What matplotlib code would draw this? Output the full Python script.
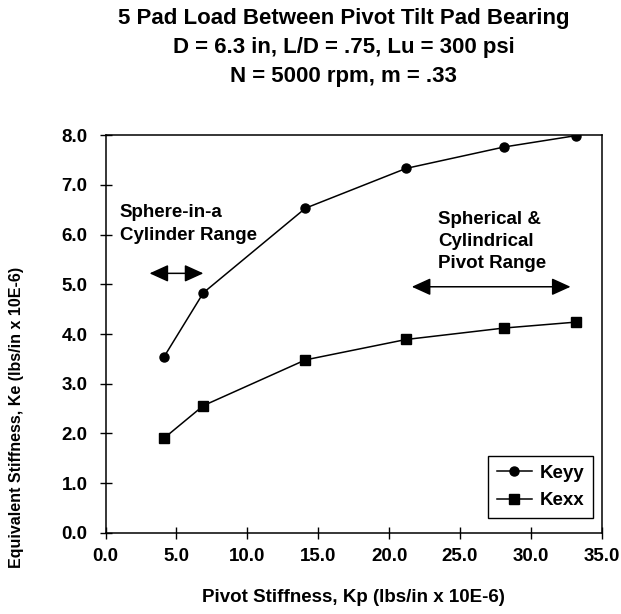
import matplotlib
matplotlib.use("Agg")
import matplotlib.pyplot as plt

plt.rcParams["font.family"] = ["Liberation Sans", "DejaVu Sans"]
plt.rcParams["font.weight"] = "bold"

# pivot stiffness (lbs/in x 10E-6)
kp = [4.1, 6.9, 14.1, 21.2, 28.1, 33.2]
# equivalent stiffness (lbs/in x 10E-6)
keyy = [3.53, 4.83, 6.53, 7.33, 7.76, 7.99]
kexx = [1.90, 2.56, 3.48, 3.89, 4.12, 4.24]

xticks = [0, 5, 10, 15, 20, 25, 30, 35]
yticks = [0, 1, 2, 3, 4, 5, 6, 7, 8]

# (start, end, height) of the two range arrows
sphere_range = (3.1, 6.9, 5.22)
pivot_range = (21.6, 32.8, 4.95)

fig = plt.figure(figsize=(6.21, 6.14), dpi=100)
ax = fig.add_axes([0.170, 0.132, 0.799, 0.648])

ax.plot(kp, keyy, color="black", lw=1.1, marker="o", ms=6.5, label="Keyy")
ax.plot(kp, kexx, color="black", lw=1.1, marker="s", ms=6.5, label="Kexx")

ax.set_xlim(0, 35)
ax.set_ylim(0, 8)
ax.set_xticks(xticks)
ax.set_yticks(yticks)
ax.set_xticklabels([f"{v:.1f}" for v in xticks], fontsize=13.5, fontweight="bold")
ax.set_yticklabels([f"{v:.1f}" for v in yticks], fontsize=13.5, fontweight="bold")
ax.tick_params(direction="inout", length=8, width=1)
ax.tick_params(axis="x", pad=7)
ax.tick_params(axis="y", pad=9)
for s in ax.spines.values():
    s.set_linewidth(1.1)

ax.set_xlabel("Pivot Stiffness, Kp (lbs/in x 10E-6)", fontsize=13.5,
              fontweight="bold", va="center")
ax.xaxis.set_label_coords(0.5, -0.163)
ax.set_ylabel("Equivalent Stiffness, Ke (lbs/in x 10E-6)", fontsize=11.5,
              fontweight="bold", va="center")
ax.yaxis.set_label_coords(-0.18, 0.29)

fig.text(0.553, 0.922,
         "5 Pad Load Between Pivot Tilt Pad Bearing\n"
         "D = 6.3 in, L/D = .75, Lu = 300 psi\n"
         "N = 5000 rpm, m = .33",
         ha="center", va="center", fontsize=16, fontweight="bold",
         linespacing=1.5)

# range annotations
arrow = dict(arrowstyle="<|-|>,head_length=0.55,head_width=0.25",
             color="black", lw=1.1, mutation_scale=21, shrinkA=0, shrinkB=0)
ax.annotate("", xy=(sphere_range[0], sphere_range[2]),
            xytext=(sphere_range[1], sphere_range[2]), arrowprops=arrow)
ax.annotate("", xy=(pivot_range[0], pivot_range[2]),
            xytext=(pivot_range[1], pivot_range[2]), arrowprops=arrow)
ax.text(1.0, 6.21, "Sphere-in-a\nCylinder Range", fontsize=13.5,
        fontweight="bold", va="center", ha="left", linespacing=1.5)
ax.text(23.45, 5.86, "Spherical &\nCylindrical\nPivot Range", fontsize=13.5,
        fontweight="bold", va="center", ha="left", linespacing=1.4)

leg = ax.legend(loc="lower right", bbox_to_anchor=(0.982, 0.038),
                borderaxespad=0, prop={"size": 13.5, "weight": "bold"},
                fancybox=False, framealpha=1, edgecolor="black",
                handlelength=1.9, handletextpad=0.4, borderpad=0.45,
                labelspacing=0.55)
leg.get_frame().set_linewidth(1.0)

fig.savefig("out.png", dpi=100)
